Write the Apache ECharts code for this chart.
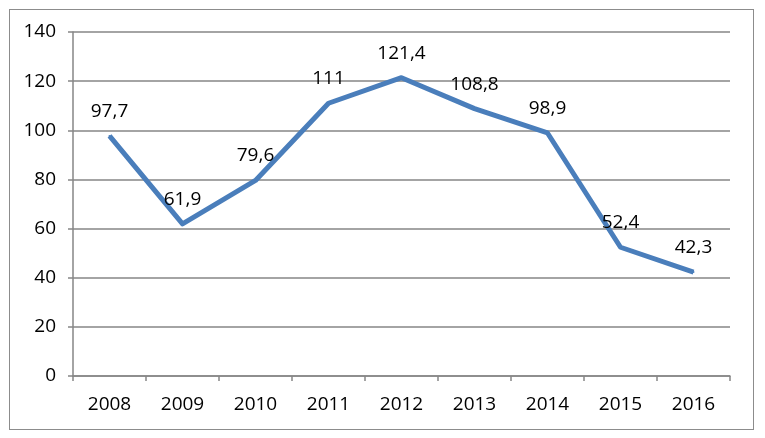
<!DOCTYPE html>
<html><head><meta charset="utf-8">
<script src="https://cdn.jsdelivr.net/npm/echarts@6/dist/echarts.min.js"></script>
<style>html,body{margin:0;padding:0;background:#fff}#c{width:765px;height:438px}
#frame{position:absolute;left:9px;top:9px;width:745px;height:421px;border:1.5px solid #8c8c8c;box-sizing:border-box;pointer-events:none}</style>
</head><body><div id="c"></div><div id="frame"></div>
<script>
var categories = ['2008','2009','2010','2011','2012','2013','2014','2015','2016'];
var values = [97.7, 61.9, 79.6, 111, 121.4, 108.8, 98.9, 52.4, 42.3];
var valueLabels = ['97,7','61,9','79,6','111','121,4','108,8','98,9','52,4','42,3'];
var yTicks = [0,20,40,60,80,100,120,140];
var chart = echarts.init(document.getElementById('c'));
var font = 'Open Sans';
chart.setOption({
  animation:false,
  grid:{left:73,right:35,top:32,bottom:62},
  xAxis:{type:'category',data:categories,boundaryGap:true,
    axisLine:{lineStyle:{color:'#868686',width:1.5}},
    axisTick:{show:true,length:5,lineStyle:{color:'#868686',width:1.5}},
    axisLabel:{color:'#000',fontFamily:font,fontSize:19,margin:19}},
  yAxis:{type:'value',min:0,max:140,interval:20,
    axisLine:{show:true,lineStyle:{color:'#868686',width:1.5}},
    axisTick:{show:true,length:5,lineStyle:{color:'#868686',width:1.5}},
    splitLine:{lineStyle:{color:'#868686',width:1.5}},
    axisLabel:{color:'#000',fontFamily:font,fontSize:19,margin:17,
      formatter:function(v){return yTicks.indexOf(v)>=0?String(v):'';}}},
  series:[{type:'line',data:values,symbol:'circle',symbolSize:2,showSymbol:true,showAllSymbol:true,
    itemStyle:{color:'#4a7ebb',borderWidth:0},
    lineStyle:{color:'#4a7ebb',width:5,join:'round'},
    label:{show:true,position:'top',distance:14,color:'#000',fontFamily:font,fontSize:19,
      formatter:function(p){return valueLabels[p.dataIndex];}}}]
});
</script></body></html>
